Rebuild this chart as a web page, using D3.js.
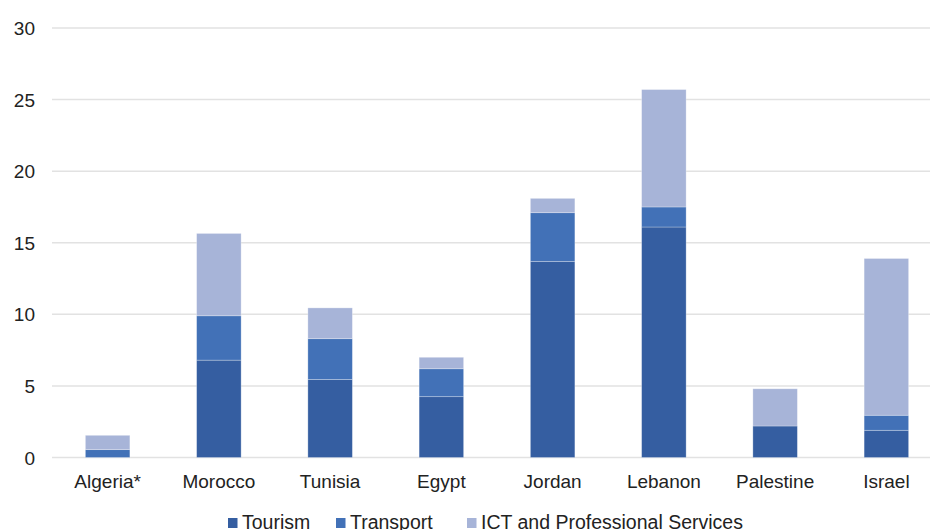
<!DOCTYPE html>
<html>
<head>
<meta charset="utf-8">
<script src="https://cdn.jsdelivr.net/npm/d3@7"></script>
<style>
  html, body { margin: 0; padding: 0; background: #fff; overflow: hidden; }
  svg { display: block; }
  text { font-family: "Liberation Sans", Arial, Helvetica, sans-serif; fill: #222; }
</style>
</head>
<body>
<svg id="chart" width="930" height="530"></svg>
<script>
// Countries along the x axis
const categories = ["Algeria*", "Morocco", "Tunisia", "Egypt", "Jordan", "Lebanon", "Palestine", "Israel"];

// Stacked series values (one entry per country)
const tourism   = [0.0, 6.8, 5.45, 4.25, 13.7, 16.1, 2.2, 1.9];
const transport = [0.55, 3.1, 2.85, 1.95, 3.4, 1.4, 0.0, 1.05];
const ict       = [1.0, 5.75, 2.15, 0.8, 1.0, 8.2, 2.6, 10.95];

const seriesNames = ["Tourism", "Transport", "ICT and Professional Services"];
const yTicks = [0, 5, 10, 15, 20, 25, 30];

const colors = ["#355ea1", "#4271b7", "#a7b4d8"];

const rows = categories.map((c, i) => ({
  country: c,
  Tourism: tourism[i],
  Transport: transport[i],
  "ICT and Professional Services": ict[i]
}));

const svg = d3.select("#chart");

const x = d3.scaleBand()
  .domain(categories)
  .range([52, 942])
  .paddingInner(0.6)
  .paddingOuter(0.3);

const y = d3.scaleLinear()
  .domain([0, 30])
  .range([457.5, 28]);

// Horizontal gridlines
svg.append("g")
  .selectAll("line")
  .data(yTicks)
  .join("line")
  .attr("x1", 52)
  .attr("x2", 930)
  .attr("y1", d => y(d))
  .attr("y2", d => y(d))
  .attr("stroke", "#e2e2e2")
  .attr("stroke-width", 1.5);

// Y axis labels
const yAxis = d3.axisLeft(y).tickValues(yTicks).tickSize(0).tickPadding(0);
const yg = svg.append("g").attr("transform", "translate(35,0)").call(yAxis);
yg.select(".domain").remove();
yg.selectAll("text")
  .attr("font-size", 19)
  .attr("font-family", "Liberation Sans, Arial, sans-serif")
  .attr("fill", "#222")
  .attr("dy", "0.35em");

// Stacked bars
const stack = d3.stack().keys(seriesNames);
const stacked = stack(rows);

svg.append("g")
  .selectAll("g")
  .data(stacked)
  .join("g")
  .attr("fill", (d, i) => colors[i])
  .selectAll("rect")
  .data(d => d)
  .join("rect")
  .attr("x", d => x(d.data.country))
  .attr("width", x.bandwidth())
  .attr("y", d => y(d[1]))
  .attr("height", d => Math.max(0, y(d[0]) - y(d[1])))
  .attr("stroke", "#ffffff")
  .attr("stroke-opacity", 0.35)
  .attr("stroke-width", 0.8);

// X axis category labels
const xAxis = d3.axisBottom(x).tickSize(0).tickPadding(0);
const xg = svg.append("g").attr("transform", "translate(0,474)").call(xAxis);
xg.select(".domain").remove();
xg.selectAll("text")
  .attr("font-size", 19)
  .attr("font-family", "Liberation Sans, Arial, sans-serif")
  .attr("fill", "#222")
  .attr("dy", "0.71em");

// Legend along the bottom edge
const legendX = [228, 336, 467];
const legend = svg.append("g")
  .selectAll("g")
  .data(seriesNames)
  .join("g")
  .attr("transform", (d, i) => `translate(${legendX[i]},0)`);

legend.append("rect")
  .attr("x", 0)
  .attr("y", 518)
  .attr("width", 9.5)
  .attr("height", 10)
  .attr("fill", (d, i) => colors[i]);

legend.append("text")
  .attr("x", 14)
  .attr("y", 529)
  .attr("font-size", 19.5)
  .text(d => d);
</script>
</body>
</html>
